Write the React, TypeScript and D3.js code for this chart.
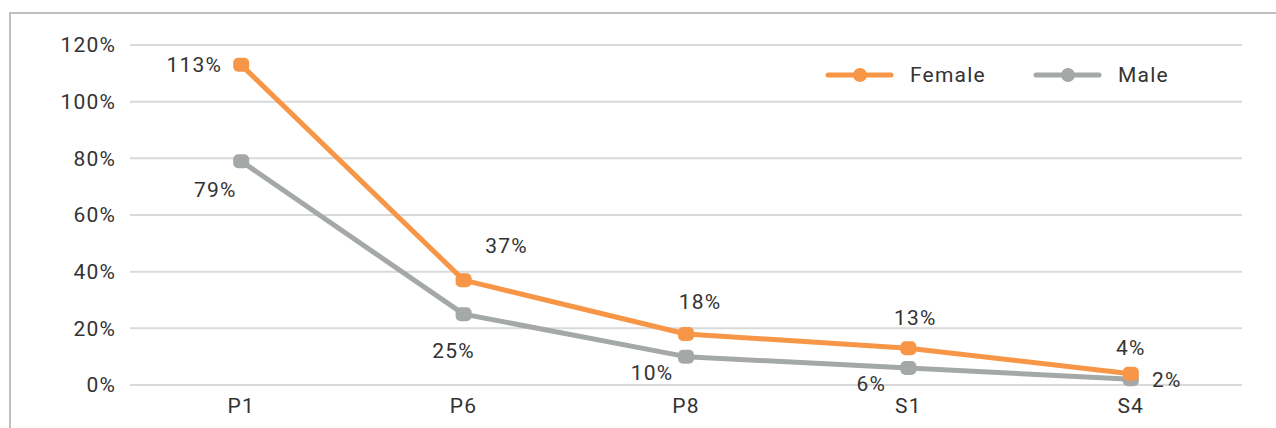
import React from "react";
import * as d3 from "d3";

const categories = ["P1", "P6", "P8", "S1", "S4"];
const female = [113, 37, 18, 13, 4];
const male = [79, 25, 10, 6, 2];
const yTicks = [0, 20, 40, 60, 80, 100, 120];
const seriesNames = ["Female", "Male"];

// label placement: [dx, dy] offsets relative to point
const femaleLabelPos = [[-47, 0], [43, -35], [14, -32], [7, -31], [0, -26]];
const maleLabelPos = [[-26, 28], [-10, 36], [-34, 16], [-37, 16], [36, 0]];

const W = 1276;
const H = 428;
const FONT = "Roboto, 'DejaVu Sans', sans-serif";
const ORANGE = "#F79646";
const GREY = "#A5A8A8";
const TEXT = "#333333";
const FS = 21;
const LS = 1.2;

export default function App() {
  const x = d3.scaleBand<string>().domain(categories).range([130, 1242]);
  const y = d3.scaleLinear().domain([0, 120]).range([385, 45]);
  const cx = (c: string) => (x(c) as number) + x.bandwidth() / 2;
  const line = d3
    .line<number>()
    .x((_, i) => cx(categories[i]))
    .y((d) => y(d));

  const series = [
    { name: seriesNames[0], data: female, color: ORANGE, pos: femaleLabelPos },
    { name: seriesNames[1], data: male, color: GREY, pos: maleLabelPos },
  ];

  return (
    <svg
      width={W}
      height={H}
      style={{ position: "absolute", left: 0, top: 0, background: "#fff" }}
      fontFamily={FONT}
      letterSpacing={LS}
    >
      <rect x={0} y={0} width={W} height={H} fill="#fff" />
      {/* outer frame */}
      <path d={`M10,${H} L10,13 L${W},13`} fill="none" stroke="#BFBFBF" strokeWidth={2} />
      {/* gridlines */}
      {yTicks.map((t) => (
        <g key={t}>
          <line x1={130} x2={1242} y1={y(t)} y2={y(t)} stroke="#D9D9D9" strokeWidth={2} />
          <text x={116} y={y(t)} dy="0.35em" textAnchor="end" fontSize={FS} fill={TEXT}>
            {t}%
          </text>
        </g>
      ))}
      {/* x labels */}
      {categories.map((c) => (
        <text key={c} x={cx(c)} y={413} textAnchor="middle" fontSize={FS} fill={TEXT}>
          {c}
        </text>
      ))}
      {/* series lines (male first so female is on top) */}
      {[...series].reverse().map((s) => (
        <g key={s.name}>
          <path d={line(s.data) as string} fill="none" stroke={s.color} strokeWidth={5} strokeLinejoin="round" />
          {s.data.map((v, i) => (
            <rect
              key={i}
              x={cx(categories[i]) - 8}
              y={y(v) - 7}
              width={16}
              height={14}
              rx={5}
              fill={s.color}
            />
          ))}
        </g>
      ))}
      {/* data labels */}
      {series.map((s) =>
        s.data.map((v, i) => (
          <text
            key={s.name + i}
            x={cx(categories[i]) + s.pos[i][0]}
            y={y(v) + s.pos[i][1]}
            dy="0.35em"
            textAnchor="middle"
            fontSize={FS}
            fill={TEXT}
          >
            {v}%
          </text>
        ))
      )}
      {/* legend */}
      {series.map((s, i) => {
        const lx = [828, 1036][i];
        return (
          <g key={s.name}>
            <line x1={lx} x2={lx + 63} y1={75} y2={75} stroke={s.color} strokeWidth={5} strokeLinecap="round" />
            <circle cx={lx + 32} cy={75} r={7} fill={s.color} />
            <text x={lx + 82} y={75} dy="0.35em" fontSize={FS} fill={TEXT}>
              {s.name}
            </text>
          </g>
        );
      })}
    </svg>
  );
}
